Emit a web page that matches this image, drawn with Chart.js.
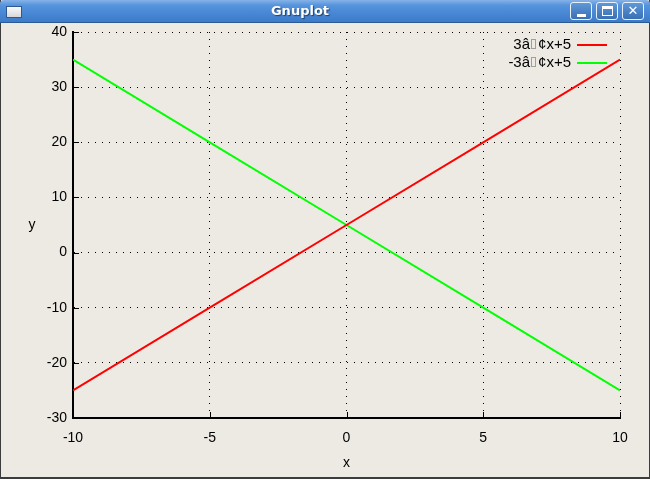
<!DOCTYPE html>
<html>
<head>
<meta charset="utf-8">
<script src="https://cdn.jsdelivr.net/npm/chart.js@4/dist/chart.umd.min.js"></script>
<style>
    html, body { margin: 0; padding: 0; }
    body { width: 650px; height: 479px; position: relative; overflow: hidden; background: #edeae4; font-family: 'Liberation Sans', Arial, sans-serif; }
    #frame { position: absolute; left: 0; top: 0; width: 648px; height: 477px; border: 1px solid #3c3c3c; border-bottom: 2px solid #3c3c3c; border-top: none; }
    #titlebar { position: absolute; left: 0; top: 0; width: 650px; height: 23px; background: linear-gradient(#86b2e8 0%, #5593dc 25%, #4787d4 60%, #3d7bc8 100%); border-bottom: 1px solid #2b5a94; box-sizing: border-box; border-radius: 4px 4px 0 0; }
    #title { position: absolute; left: 0; width: 600px; top: 3px; text-align: center; color: #fff; font: bold 13px 'DejaVu Sans', sans-serif; text-shadow: 1px 1px 1px #1f3f6a; }
    #icon { position: absolute; left: 6px; top: 6px; width: 14px; height: 10px; background: linear-gradient(#fafafa, #d8d8d8); border: 1px solid #2d5a92; }
    .btn { position: absolute; top: 2px; width: 22px; height: 18px; border: 1px solid #e8f0fa; border-radius: 3px; background: linear-gradient(#5f98d8, #3a6fb4); box-sizing: border-box; }
    .btn span { position: absolute; background: #fff; }
    canvas { position: absolute; left: 0; top: 0; }
</style>
</head>
<body>
<canvas id="plot" width="650" height="479"></canvas>
<div id="frame"></div>
<div id="titlebar">
    <div id="icon"></div>
    <div id="title">Gnuplot</div>
    <div class="btn" style="left:570px"><span style="left:6px;top:11px;width:9px;height:3px"></span></div>
    <div class="btn" style="left:596px"><span style="left:5px;top:3px;width:11px;height:3px"></span><span style="left:5px;top:3px;width:1px;height:10px"></span><span style="left:15px;top:3px;width:1px;height:10px"></span><span style="left:5px;top:12px;width:11px;height:1px"></span></div>
    <div class="btn" style="left:622px;font:bold 13px 'DejaVu Sans',sans-serif;color:#fff;text-align:center;line-height:16px">✕</div>
</div>
<script>
    // valeurs
    const xValues = [-10, -5, 0, 5, 10];
    const redValues = [-25, -10, 5, 20, 35];
    const greenValues = [35, 20, 5, -10, -25];
    const seriesLabels = ['3â\u0080¢x+5', '-3â\u0080¢x+5'];
    const xTicks = [-10, -5, 0, 5, 10];
    const yTicks = [-30, -20, -10, 0, 10, 20, 30, 40];

    const tickFont = { family: 'Liberation Sans', size: 14 };

    function toPoints(ys) {
        return xValues.map((x, i) => ({ x: x, y: ys[i] }));
    }

    // le caractere \u0080 n'a pas de glyphe : on dessine la petite boite pointillee a sa place
    function drawLabel(ctx, text, right, y) {
        const parts = text.split('\u0080');
        const boxW = 8;
        let total = 0;
        parts.forEach(p => { total += ctx.measureText(p).width; });
        total += boxW * (parts.length - 1);
        let x = right - total;
        ctx.textAlign = 'left';
        parts.forEach((p, i) => {
            ctx.fillText(p, x, y);
            x += ctx.measureText(p).width;
            if (i < parts.length - 1) {
                ctx.save();
                ctx.strokeStyle = '#555';
                ctx.lineWidth = 1;
                ctx.setLineDash([1, 1]);
                ctx.strokeRect(Math.round(x) + 1.5, y - 5.5, 4, 9);
                ctx.restore();
                x += boxW;
            }
        });
    }

    // legende, titres des axes et petites graduations dans le style gnuplot
    const gnuplotExtras = {
        id: 'gnuplotExtras',
        afterDraw(chart) {
            const ctx = chart.ctx;
            const xs = chart.scales.x, ys = chart.scales.y;
            const area = chart.chartArea;
            ctx.save();
            ctx.strokeStyle = '#000';
            ctx.lineWidth = 1;
            yTicks.forEach(v => {
                const py = Math.round(ys.getPixelForValue(v)) + 0.5;
                ctx.beginPath();
                ctx.moveTo(area.left, py);
                ctx.lineTo(area.left + 6, py);
                ctx.stroke();
            });
            xTicks.forEach(v => {
                const px = Math.round(xs.getPixelForValue(v)) + 0.5;
                ctx.beginPath();
                ctx.moveTo(px, area.bottom);
                ctx.lineTo(px, area.bottom - 6);
                ctx.stroke();
            });

            ctx.fillStyle = '#000';
            ctx.font = '14px "Liberation Sans"';
            ctx.textBaseline = 'middle';
            ctx.textAlign = 'center';
            ctx.fillText('x', (area.left + area.right) / 2, 463);
            ctx.fillText('y', 32, 225);

            ctx.font = '15px "Liberation Sans"';
            chart.data.datasets.forEach((ds, i) => {
                const y = 45 + i * 18;
                ctx.fillStyle = '#000';
                drawLabel(ctx, ds.label, 571, y);
                ctx.strokeStyle = ds.borderColor;
                ctx.lineWidth = 2;
                ctx.beginPath();
                ctx.moveTo(577, y);
                ctx.lineTo(607, y);
                ctx.stroke();
            });
            ctx.restore();
        }
    };

    new Chart(document.getElementById('plot').getContext('2d'), {
        type: 'line',
        data: {
            datasets: [
                { label: seriesLabels[0], data: toPoints(redValues), borderColor: '#ff0000', borderWidth: 2, pointRadius: 0, fill: false, tension: 0 },
                { label: seriesLabels[1], data: toPoints(greenValues), borderColor: '#00ff00', borderWidth: 2, pointRadius: 0, fill: false, tension: 0 }
            ]
        },
        options: {
            responsive: false,
            animation: false,
            layout: { padding: { top: 32, right: 30, left: 0, bottom: 0 } },
            plugins: {
                legend: { display: false },
                tooltip: { enabled: false }
            },
            scales: {
                x: {
                    type: 'linear',
                    min: -10,
                    max: 10,
                    afterFit: s => { s.height = 61; },
                    afterBuildTicks: s => { s.ticks = xTicks.map(v => ({ value: v })); },
                    ticks: { color: '#000', font: tickFont, padding: 12, maxRotation: 0 },
                    grid: { color: '#000', lineWidth: 1, drawTicks: false },
                    border: { display: true, color: '#000', width: 2, dash: [1, 6] }
                },
                y: {
                    type: 'linear',
                    min: -30,
                    max: 40,
                    afterFit: s => { s.width = 73; },
                    afterBuildTicks: s => { s.ticks = yTicks.map(v => ({ value: v })); },
                    ticks: { color: '#000', font: tickFont, padding: 6 },
                    grid: { color: '#000', lineWidth: 1, drawTicks: false },
                    border: { display: true, color: '#000', width: 2, dash: [1, 6] }
                }
            }
        },
        plugins: [gnuplotExtras]
    });
</script>
</body>
</html>
